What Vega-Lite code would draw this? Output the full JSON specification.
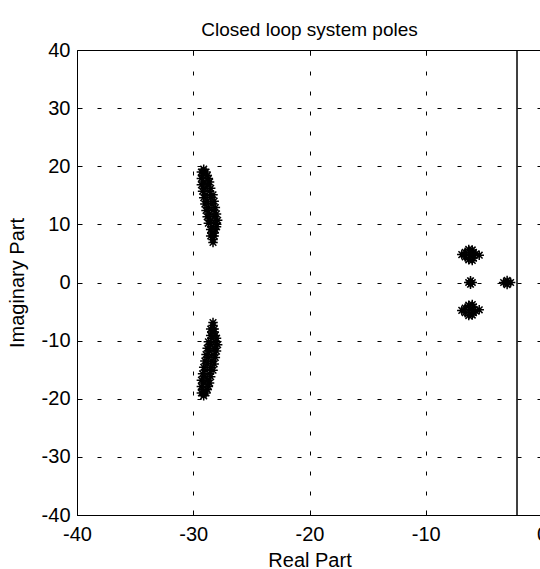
{
  "$schema": "https://vega.github.io/schema/vega-lite/v6.json",
  "width": 465,
  "height": 465,
  "autosize": {"type": "none"},
  "padding": {"left": 77, "top": 50, "right": 0, "bottom": 54},
  "background": "white",
  "config": {
    "view": {"stroke": "black", "strokeWidth": 1},
    "font": "Liberation Sans"
  },
  "title": {
    "text": "Closed loop system poles",
    "fontSize": 19,
    "font": "Liberation Sans",
    "fontWeight": "normal",
    "color": "black",
    "anchor": "middle",
    "frame": "group",
    "baseline": "alphabetic",
    "offset": 15,
    "dy": 30
  },
  "datasets": {
    "poles": [
      {"re": -29.1, "im": 19.5},
      {"re": -29.3, "im": 19.0}, {"re": -28.9, "im": 19.0},
      {"re": -29.2, "im": 18.4}, {"re": -28.8, "im": 18.4},
      {"re": -29.3, "im": 17.9}, {"re": -28.7, "im": 17.9},
      {"re": -29.1, "im": 17.3}, {"re": -28.6, "im": 17.3},
      {"re": -29.3, "im": 16.8}, {"re": -28.8, "im": 16.8},
      {"re": -29.0, "im": 16.2}, {"re": -28.5, "im": 16.2},
      {"re": -29.2, "im": 15.7}, {"re": -28.6, "im": 15.7},
      {"re": -28.9, "im": 15.1}, {"re": -28.3, "im": 15.1},
      {"re": -29.1, "im": 14.6}, {"re": -28.5, "im": 14.6},
      {"re": -28.8, "im": 14.0}, {"re": -28.2, "im": 14.0},
      {"re": -29.0, "im": 13.5}, {"re": -28.4, "im": 13.5},
      {"re": -28.7, "im": 12.9}, {"re": -28.1, "im": 12.9},
      {"re": -28.9, "im": 12.4}, {"re": -28.3, "im": 12.4},
      {"re": -28.6, "im": 11.8}, {"re": -28.0, "im": 11.8},
      {"re": -28.8, "im": 11.3}, {"re": -28.2, "im": 11.3},
      {"re": -28.5, "im": 10.7}, {"re": -27.9, "im": 10.7},
      {"re": -28.7, "im": 10.2}, {"re": -28.1, "im": 10.2},
      {"re": -28.4, "im": 9.6}, {"re": -28.0, "im": 9.6},
      {"re": -28.5, "im": 9.1}, {"re": -28.1, "im": 9.1},
      {"re": -28.4, "im": 8.5}, {"re": -28.2, "im": 8.5},
      {"re": -28.5, "im": 8.0}, {"re": -28.2, "im": 8.0},
      {"re": -28.3, "im": 7.4}, {"re": -28.3, "im": 6.9},
      {"re": -29.1, "im": -19.5},
      {"re": -29.3, "im": -19.0}, {"re": -28.9, "im": -19.0},
      {"re": -29.2, "im": -18.4}, {"re": -28.8, "im": -18.4},
      {"re": -29.3, "im": -17.9}, {"re": -28.7, "im": -17.9},
      {"re": -29.1, "im": -17.3}, {"re": -28.6, "im": -17.3},
      {"re": -29.3, "im": -16.8}, {"re": -28.8, "im": -16.8},
      {"re": -29.0, "im": -16.2}, {"re": -28.5, "im": -16.2},
      {"re": -29.2, "im": -15.7}, {"re": -28.6, "im": -15.7},
      {"re": -28.9, "im": -15.1}, {"re": -28.3, "im": -15.1},
      {"re": -29.1, "im": -14.6}, {"re": -28.5, "im": -14.6},
      {"re": -28.8, "im": -14.0}, {"re": -28.2, "im": -14.0},
      {"re": -29.0, "im": -13.5}, {"re": -28.4, "im": -13.5},
      {"re": -28.7, "im": -12.9}, {"re": -28.1, "im": -12.9},
      {"re": -28.9, "im": -12.4}, {"re": -28.3, "im": -12.4},
      {"re": -28.6, "im": -11.8}, {"re": -28.0, "im": -11.8},
      {"re": -28.8, "im": -11.3}, {"re": -28.2, "im": -11.3},
      {"re": -28.5, "im": -10.7}, {"re": -27.9, "im": -10.7},
      {"re": -28.7, "im": -10.2}, {"re": -28.1, "im": -10.2},
      {"re": -28.4, "im": -9.6}, {"re": -28.0, "im": -9.6},
      {"re": -28.5, "im": -9.1}, {"re": -28.1, "im": -9.1},
      {"re": -28.4, "im": -8.5}, {"re": -28.2, "im": -8.5},
      {"re": -28.5, "im": -8.0}, {"re": -28.2, "im": -8.0},
      {"re": -28.3, "im": -7.4}, {"re": -28.3, "im": -6.9},
      {"re": -6.9, "im": 4.8}, {"re": -6.6, "im": 4.4}, {"re": -6.6, "im": 5.2},
      {"re": -6.3, "im": 3.9}, {"re": -6.2, "im": 4.7}, {"re": -6.3, "im": 5.7},
      {"re": -5.9, "im": 4.2}, {"re": -5.9, "im": 5.2}, {"re": -5.4, "im": 4.7},
      {"re": -6.0, "im": 3.8}, {"re": -6.0, "im": 5.6}, {"re": -5.7, "im": 4.9},
      {"re": -6.9, "im": -4.8}, {"re": -6.6, "im": -4.4}, {"re": -6.6, "im": -5.2},
      {"re": -6.3, "im": -3.9}, {"re": -6.2, "im": -4.7}, {"re": -6.3, "im": -5.7},
      {"re": -5.9, "im": -4.2}, {"re": -5.9, "im": -5.2}, {"re": -5.4, "im": -4.7},
      {"re": -6.0, "im": -3.8}, {"re": -6.0, "im": -5.6}, {"re": -5.7, "im": -4.9},
      {"re": -6.3, "im": 0}, {"re": -6.0, "im": 0}, {"re": -6.15, "im": 0.3}, {"re": -6.15, "im": -0.3},
      {"re": -3.3, "im": 0}, {"re": -2.95, "im": 0}, {"re": -2.7, "im": 0}, {"re": -3.0, "im": 0.35}, {"re": -3.0, "im": -0.35}
    ],
    "vline": [{"re": -2.15}]
  },
  "resolve": {"axis": {"x": "independent"}},
  "layer": [
    {
      "data": {"name": "vline"},
      "mark": {"type": "rule", "color": "black", "strokeWidth": 1.5},
      "encoding": {
        "x": {
          "field": "re", "type": "quantitative",
          "scale": {"domain": [-40, 0], "nice": false, "zero": false},
          "axis": {
            "orient": "bottom",
            "values": [-40, -30, -20, -10, 0],
            "labelExpr": "toString(datum.value)",
            "title": "Real Part",
            "titleFontSize": 20, "titleFontWeight": "normal", "titleColor": "black",
            "titleFont": "Liberation Sans",
            "titleBaseline": "alphabetic", "titleY": 51,
            "labelFontSize": 20, "labelColor": "black", "labelFont": "Liberation Sans",
            "labelFlush": false, "labelPadding": 14,
            "domain": false,
            "ticks": true, "tickSize": -5, "tickColor": "black",
            "grid": true, "gridColor": "black", "gridDash": [4, 16], "gridOpacity": 1, "gridWidth": 1
          }
        }
      }
    },
    {
      "data": {"name": "poles"},
      "mark": {
        "type": "point",
        "shape": "M-1,0L1,0M0,-1L0,1M-0.7,-0.7L0.7,0.7M-0.7,0.7L0.7,-0.7",
        "size": 90, "filled": false, "stroke": "black", "strokeWidth": 1.5, "opacity": 1
      },
      "encoding": {
        "x": {
          "field": "re", "type": "quantitative",
          "scale": {"domain": [-40, 0], "nice": false, "zero": false},
          "axis": {
            "orient": "top",
            "values": [-30, -20, -10],
            "title": null, "labels": false, "domain": false, "grid": false,
            "ticks": true, "tickSize": -5, "tickColor": "black"
          }
        },
        "y": {
          "field": "im", "type": "quantitative",
          "scale": {"domain": [-40, 40], "nice": false, "zero": false},
          "axis": {
            "values": [-40, -30, -20, -10, 0, 10, 20, 30, 40],
            "labelExpr": "toString(datum.value)",
            "title": "Imaginary Part",
            "titleFontSize": 20, "titleFontWeight": "normal", "titleColor": "black",
            "titleFont": "Liberation Sans",
            "titleBaseline": "middle", "titleX": -60, "titleY": 232.5,
            "labelFontSize": 20, "labelColor": "black", "labelFont": "Liberation Sans",
            "labelFlush": false, "labelPadding": 12,
            "domain": false,
            "ticks": true, "tickSize": -5, "tickColor": "black",
            "grid": true, "gridColor": "black", "gridDash": [4, 16], "gridOpacity": 1, "gridWidth": 1
          }
        }
      }
    }
  ]
}
